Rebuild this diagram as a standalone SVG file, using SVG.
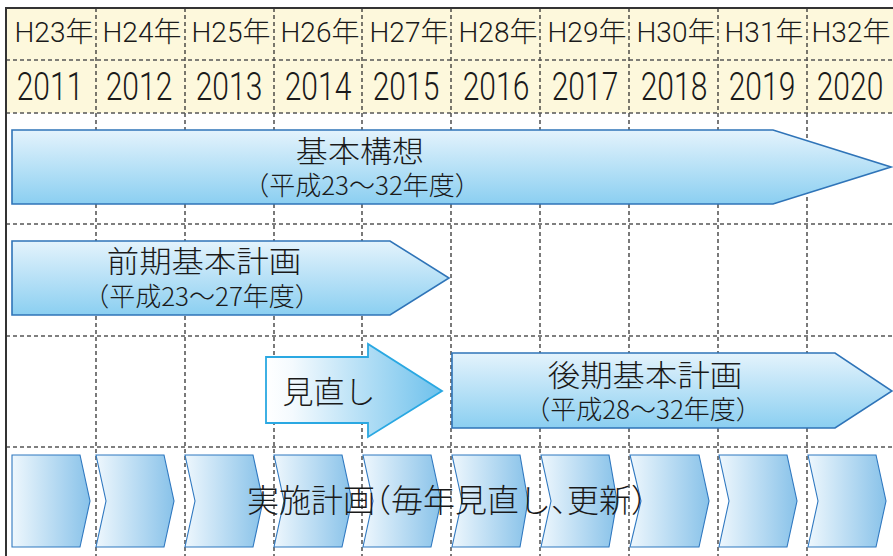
<svg xmlns="http://www.w3.org/2000/svg" width="893" height="556" viewBox="0 0 893 556">
<defs>
<linearGradient id="gV" x1="0" y1="0" x2="0" y2="1"><stop offset="0" stop-color="#e4f3fc"/><stop offset="1" stop-color="#8bcff1"/></linearGradient>
<linearGradient id="gH" x1="0" y1="0" x2="1" y2="0"><stop offset="0" stop-color="#ffffff"/><stop offset="0.15" stop-color="#f4fafe"/><stop offset="1" stop-color="#6ec1ec"/></linearGradient>
<linearGradient id="gC" x1="0" y1="0" x2="1" y2="0"><stop offset="0" stop-color="#eef7fd"/><stop offset="1" stop-color="#88c2e9"/></linearGradient>
<style>
.hd{font-family:Roboto,"Liberation Sans","Noto Sans CJK JP",sans-serif;font-weight:300;font-size:28px;fill:#1a1a1a;text-anchor:middle}
.yr{font-family:Roboto,"Liberation Sans",sans-serif;font-weight:300;font-size:30px;fill:#1a1a1a;text-anchor:middle}
.jp{font-family:"Noto Sans CJK JP",sans-serif;font-weight:300;fill:#1a1a1a;text-anchor:middle;font-feature-settings:"halt"}
.big{font-size:30px}
.sub{font-size:26px}
.hl{stroke:#555;stroke-width:1.3;stroke-dasharray:4 3;fill:none}
.vl{stroke:#222;stroke-width:1.2;stroke-dasharray:4 3;fill:none}
.ar{fill:url(#gV);stroke:#2f74b8;stroke-width:1.6}
.rv{fill:url(#gH);stroke:#2aa8e2;stroke-width:1.8}
.ch{fill:url(#gC);stroke:#2f78c0;stroke-width:1.1}
</style>
</defs>
<rect x="0" y="0" width="893" height="556" fill="#ffffff"/>
<g id="header">
<rect x="6" y="8" width="887" height="105" fill="#fdf8dc"/>
</g>
<g id="grid">
<path class="vl" d="M96,8V556M185,8V556M274,8V556M362,8V556M451,8V556M540,8V556M629,8V556M718,8V556M807,8V556"/>
<path class="hl" d="M6,60H893M6,113H893M6,224H893M6,336H893M6,447H893"/>
<path d="M5,8H893M6,7V556" stroke="#333" stroke-width="2" fill="none"/>
</g>
<g id="header-text">
<text class="hd" x="54" y="42">H23年</text>
<text class="hd" x="142" y="42">H24年</text>
<text class="hd" x="231" y="42">H25年</text>
<text class="hd" x="320" y="42">H26年</text>
<text class="hd" x="409" y="42">H27年</text>
<text class="hd" x="498" y="42">H28年</text>
<text class="hd" x="587" y="42">H29年</text>
<text class="hd" x="676" y="42">H30年</text>
<text class="hd" x="764" y="42">H31年</text>
<text class="hd" x="851" y="42">H32年</text>
<text class="yr" transform="translate(50,100) scale(1,1.3)">2011</text>
<text class="yr" transform="translate(139,100) scale(1,1.3)">2012</text>
<text class="yr" transform="translate(229,100) scale(1,1.3)">2013</text>
<text class="yr" transform="translate(318,100) scale(1,1.3)">2014</text>
<text class="yr" transform="translate(406,100) scale(1,1.3)">2015</text>
<text class="yr" transform="translate(496,100) scale(1,1.3)">2016</text>
<text class="yr" transform="translate(585,100) scale(1,1.3)">2017</text>
<text class="yr" transform="translate(674,100) scale(1,1.3)">2018</text>
<text class="yr" transform="translate(762,100) scale(1,1.3)">2019</text>
<text class="yr" transform="translate(850,100) scale(1,1.3)">2020</text>
</g>
<g id="kihon-kousou">
<path class="ar" d="M12,130H773L891,167L773,204H12Z"/>
<text class="jp big" transform="translate(360,162) scale(1.07,1)">基本構想</text>
<text class="jp sub" x="362" y="195">（平成23〜32年度）</text>
</g>
<g id="zenki">
<path class="ar" d="M12,241H390L449,278L390,315H12Z"/>
<text class="jp big" transform="translate(204,272) scale(1.08,1)">前期基本計画</text>
<text class="jp sub" x="202" y="306">（平成23〜27年度）</text>
</g>
<g id="minaoshi">
<path class="rv" d="M266,357H368V344L442,391L368,437V423H266Z"/>
<text class="jp" style="font-size:31px" x="329" y="403">見直し</text>
</g>
<g id="kouki">
<path class="ar" d="M452,353H835L892,391L835,428H452Z"/>
<text class="jp big" transform="translate(645,386) scale(1.08,1)">後期基本計画</text>
<text class="jp sub" x="643" y="419">（平成28〜32年度）</text>
</g>
<g id="jisshi">
<path class="ch" d="M12,455H80L90,501L80,547H12Z"/>
<path class="ch" d="M96,455H164L174,501L164,547H96L106,501Z"/>
<path class="ch" d="M185,455H253L263,501L253,547H185L195,501Z"/>
<path class="ch" d="M274,455H342L352,501L342,547H274L284,501Z"/>
<path class="ch" d="M363,455H431L441,501L431,547H363L373,501Z"/>
<path class="ch" d="M452,455H520L528,501L520,547H452L462,501Z"/>
<path class="ch" d="M541,455H609L617,501L609,547H541L551,501Z"/>
<path class="ch" d="M630,455H699L709,501L699,547H630L641,501Z"/>
<path class="ch" d="M719,455H787L797,501L787,547H719L729,501Z"/>
<path class="ch" d="M808,455H876L886,501L876,547H808L818,501Z"/>
<text class="jp" style="font-size:32px" x="447" y="512">実施計画（毎年見直し、更新）</text>
</g>
</svg>
